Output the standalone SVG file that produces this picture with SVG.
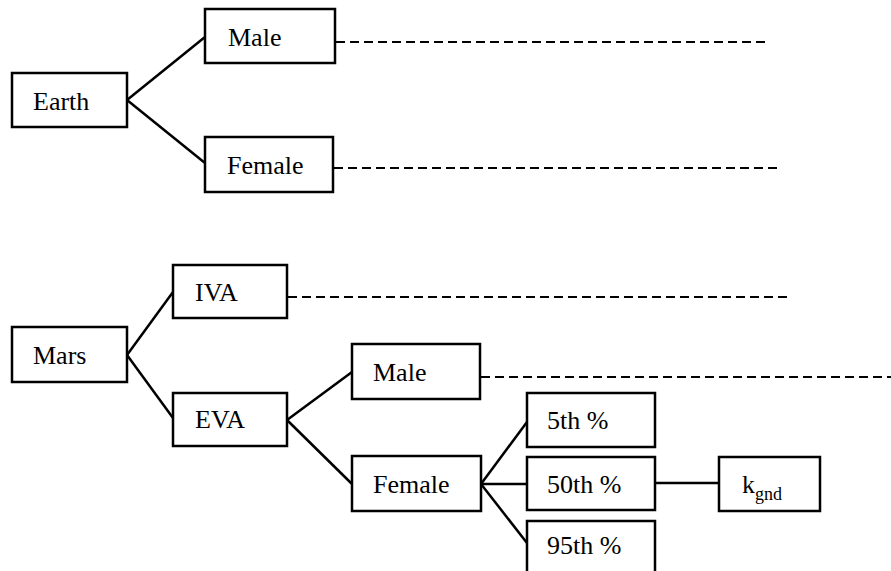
<svg xmlns="http://www.w3.org/2000/svg" width="891" height="571" viewBox="0 0 891 571">
<style>
.box{fill:#fff;stroke:#000;stroke-width:2.5}
.ln{stroke:#000;stroke-width:2.5;fill:none}
.dash{stroke:#000;stroke-width:2;stroke-dasharray:9 5;fill:none}
text{font-family:"Liberation Serif","Times New Roman",serif;font-size:26px;fill:#000}
.sub{font-size:18px}
</style>
<rect width="891" height="571" fill="#fff"/>
<g id="connectors">
<line class="ln" x1="127" y1="100" x2="205" y2="37"/>
<line class="ln" x1="127" y1="100" x2="205" y2="163"/>
<line class="dash" x1="336" y1="42" x2="767" y2="42"/>
<line class="dash" x1="334" y1="168" x2="781" y2="168"/>
<line class="ln" x1="127" y1="355" x2="173" y2="292"/>
<line class="ln" x1="127" y1="355" x2="173" y2="418"/>
<line class="dash" x1="288" y1="297" x2="787" y2="297"/>
<line class="ln" x1="287" y1="420" x2="352" y2="372"/>
<line class="ln" x1="287" y1="420" x2="352" y2="484"/>
<line class="dash" x1="481" y1="377" x2="891" y2="377"/>
<line class="ln" x1="481" y1="484" x2="527" y2="422"/>
<line class="ln" x1="481" y1="484" x2="527" y2="484"/>
<line class="ln" x1="481" y1="484" x2="527" y2="543"/>
<line class="ln" x1="655" y1="483" x2="719" y2="483"/>
</g>
<g id="earth"><rect class="box" x="12" y="73" width="115" height="54"/><text x="33" y="110">Earth</text></g>
<g id="earth-male"><rect class="box" x="205" y="9" width="130" height="54"/><text x="228" y="46">Male</text></g>
<g id="earth-female"><rect class="box" x="205" y="137" width="128" height="55"/><text x="227" y="174">Female</text></g>
<g id="mars"><rect class="box" x="12" y="327" width="115" height="55"/><text x="33" y="364">Mars</text></g>
<g id="iva"><rect class="box" x="173" y="265" width="114" height="53"/><text x="195" y="301">IVA</text></g>
<g id="eva"><rect class="box" x="173" y="393" width="114" height="53"/><text x="195" y="428">EVA</text></g>
<g id="eva-male"><rect class="box" x="352" y="344" width="128" height="55"/><text x="373" y="381">Male</text></g>
<g id="eva-female"><rect class="box" x="352" y="456" width="129" height="55"/><text x="373" y="493">Female</text></g>
<g id="p5"><rect class="box" x="527" y="393" width="128" height="54"/><text x="547" y="429">5th %</text></g>
<g id="p50"><rect class="box" x="527" y="457" width="128" height="53"/><text x="547" y="493">50th %</text></g>
<g id="p95"><rect class="box" x="527" y="521" width="128" height="60"/><text x="547" y="554">95th %</text></g>
<g id="kgnd"><rect class="box" x="719" y="457" width="101" height="54"/><text x="742" y="493">k<tspan class="sub" dy="7">gnd</tspan></text></g>
</svg>
